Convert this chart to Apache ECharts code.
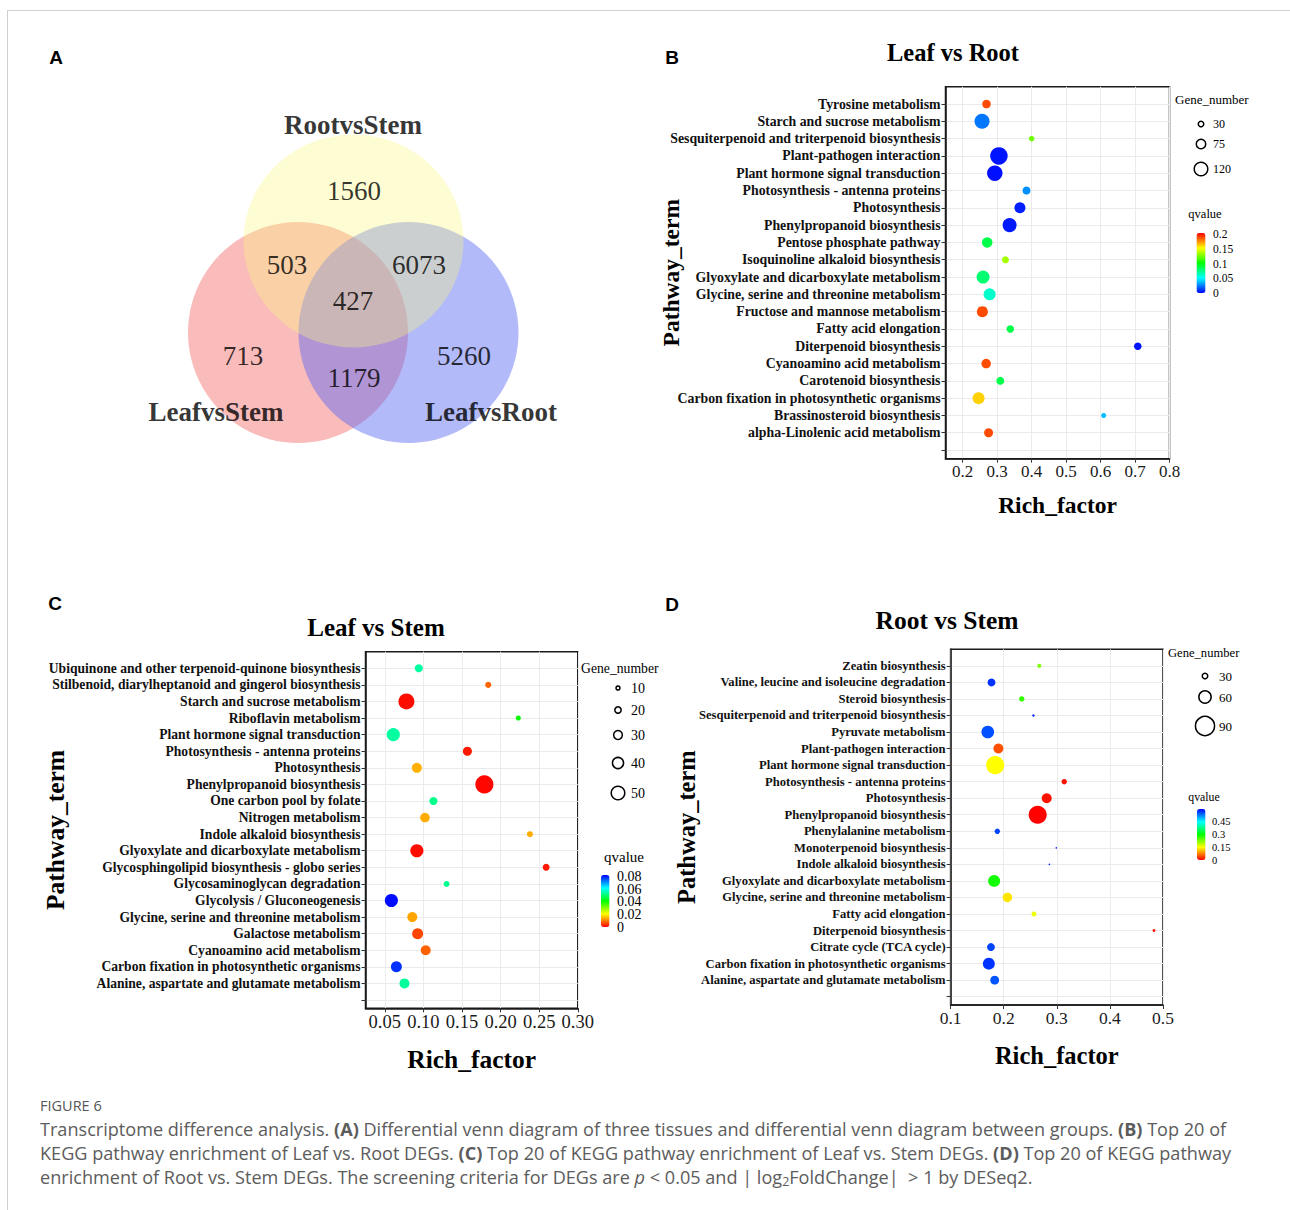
<!DOCTYPE html>
<html><head><meta charset="utf-8">
<script src="https://cdn.jsdelivr.net/npm/echarts@6/dist/echarts.min.js"></script>
<style>html,body{margin:0;padding:0;background:#fff}#c{width:1290px;height:1210px}</style>
</head><body><div id="c"></div>
<script>
// ---------------- DATA ----------------
// Panel A: Venn
const vennSets = ['LeafvsStem', 'LeafvsRoot', 'RootvsStem'];
const vennRegions = ['RootvsStem only', 'LeafvsStem & RootvsStem', 'RootvsStem & LeafvsRoot', 'All three', 'LeafvsStem only', 'LeafvsStem & LeafvsRoot', 'LeafvsRoot only'];
const vennCounts = [1560, 503, 6073, 427, 713, 1179, 5260];

// Panel B: Leaf vs Root
const catsB = ['Tyrosine metabolism', 'Starch and sucrose metabolism', 'Sesquiterpenoid and triterpenoid biosynthesis', 'Plant-pathogen interaction', 'Plant hormone signal transduction', 'Photosynthesis - antenna proteins', 'Photosynthesis', 'Phenylpropanoid biosynthesis', 'Pentose phosphate pathway', 'Isoquinoline alkaloid biosynthesis', 'Glyoxylate and dicarboxylate metabolism', 'Glycine, serine and threonine metabolism', 'Fructose and mannose metabolism', 'Fatty acid elongation', 'Diterpenoid biosynthesis', 'Cyanoamino acid metabolism', 'Carotenoid biosynthesis', 'Carbon fixation in photosynthetic organisms', 'Brassinosteroid biosynthesis', 'alpha-Linolenic acid metabolism'];
const richB = [0.269, 0.256, 0.400, 0.305, 0.293, 0.385, 0.366, 0.336, 0.271, 0.324, 0.259, 0.278, 0.257, 0.338, 0.708, 0.268, 0.309, 0.246, 0.609, 0.275];
const geneB = [47, 120, 13, 148, 125, 41, 75, 109, 69, 30, 97, 86, 75, 36, 36, 58, 41, 86, 8, 52];
const qB = [0.19, 0.024, 0.125, 0.004, 0.003, 0.029, 0.006, 0.005, 0.088, 0.135, 0.08, 0.062, 0.19, 0.088, 0.004, 0.19, 0.088, 0.163, 0.038, 0.19];
const xTicksB = [0.2, 0.3, 0.4, 0.5, 0.6, 0.7, 0.8];
const sizeBreaksB = [30, 75, 120];
const qTicksB = [0.2, 0.15, 0.1, 0.05, 0];

// Panel C: Leaf vs Stem
const catsC = ['Ubiquinone and other terpenoid-quinone biosynthesis', 'Stilbenoid, diarylheptanoid and gingerol biosynthesis', 'Starch and sucrose metabolism', 'Riboflavin metabolism', 'Plant hormone signal transduction', 'Photosynthesis - antenna proteins', 'Photosynthesis', 'Phenylpropanoid biosynthesis', 'One carbon pool by folate', 'Nitrogen metabolism', 'Indole alkaloid biosynthesis', 'Glyoxylate and dicarboxylate metabolism', 'Glycosphingolipid biosynthesis - globo series', 'Glycosaminoglycan degradation', 'Glycolysis / Gluconeogenesis', 'Glycine, serine and threonine metabolism', 'Galactose metabolism', 'Cyanoamino acid metabolism', 'Carbon fixation in photosynthetic organisms', 'Alanine, aspartate and glutamate metabolism'];
const richC = [0.094, 0.184, 0.078, 0.223, 0.061, 0.157, 0.0915, 0.179, 0.113, 0.102, 0.238, 0.0915, 0.259, 0.130, 0.0585, 0.0856, 0.0925, 0.103, 0.065, 0.0755];
const geneC = [21, 13, 54, 8, 42, 25, 29, 63, 21, 27, 12, 42, 16, 12, 42, 29, 33, 29, 33, 29];
const qC = [0.0545, 0.0081, 0.001, 0.041, 0.0545, 0.002, 0.0143, 0.0005, 0.053, 0.014, 0.014, 0.001, 0.002, 0.053, 0.082, 0.0134, 0.0057, 0.008, 0.079, 0.054];
const xTicksC = [0.05, 0.10, 0.15, 0.20, 0.25, 0.30];
const sizeBreaksC = [10, 20, 30, 40, 50];
const qTicksC = [0.08, 0.06, 0.04, 0.02, 0];

// Panel D: Root vs Stem
const catsD = ['Zeatin biosynthesis', 'Valine, leucine and isoleucine degradation', 'Steroid biosynthesis', 'Sesquiterpenoid and triterpenoid biosynthesis', 'Pyruvate metabolism', 'Plant-pathogen interaction', 'Plant hormone signal transduction', 'Photosynthesis - antenna proteins', 'Photosynthesis', 'Phenylpropanoid biosynthesis', 'Phenylalanine metabolism', 'Monoterpenoid biosynthesis', 'Indole alkaloid biosynthesis', 'Glyoxylate and dicarboxylate metabolism', 'Glycine, serine and threonine metabolism', 'Fatty acid elongation', 'Diterpenoid biosynthesis', 'Citrate cycle (TCA cycle)', 'Carbon fixation in photosynthetic organisms', 'Alanine, aspartate and glutamate metabolism'];
const richD = [0.267, 0.177, 0.234, 0.256, 0.170, 0.190, 0.184, 0.314, 0.281, 0.264, 0.188, 0.299, 0.286, 0.182, 0.207, 0.257, 0.483, 0.176, 0.172, 0.183];
const geneD = [17, 34, 23, 10, 55, 43, 79, 23, 43, 79, 23, 6, 6, 52, 41, 21, 12, 34, 52, 38];
const qD = [0.224, 0.57, 0.27, 0.58, 0.553, 0.047, 0.15, 0.01, 0.01, 0.001, 0.56, 0.58, 0.58, 0.29, 0.135, 0.16, 0.01, 0.56, 0.57, 0.55];
const xTicksD = [0.1, 0.2, 0.3, 0.4, 0.5];
const sizeBreaksD = [30, 60, 90];
const qTicksD = [0.45, 0.3, 0.15, 0];

// ---------------- STYLE / LAYOUT ----------------
const SERIF = '"Liberation Serif", "Times New Roman", serif';
const SANS = '"Liberation Sans", Arial, sans-serif';
const CAP = '"Open Sans", Lato, sans-serif';
const AX = '#1a1a1a';
const GRIDC = '#ebebeb';

const P = {
  B: { grid: { left: 945.5, top: 86.7, width: 224, height: 372 }, xMin: 0.15, xMax: 0.8, dec: 1,
       tickFs: 17, catFs: 13.8, nameFs: 23.5, xNameGap: 34, yNameGap: 263, labelMargin: 5,
       size: v => 4.33 + 0.089 * v, qMin: 0, qMax: 0.205,
       colors: ['#0000ff', '#00ffff', '#00ff00', '#ffff00', '#ff0000'],
       title: { x: 953, y: 52, fs: 24.5, text: 'Leaf vs Root' },
       leg: { titleX: 1175, titleY: 99, titleFs: 13, cx: 1201, ys: [124, 144, 169], lx: 1213, lfs: 12,
              qx: 1205, qy: 214, qfs: 12.5, barX: 1196.5, barY: 233, barW: 9, barH: 60, qlx: 1213, qlfs: 11.5 } },
  C: { grid: { left: 365.5, top: 651.7, width: 212.3, height: 356.6 }, xMin: 0.025, xMax: 0.30, dec: 2,
       tickFs: 18.5, catFs: 13.6, nameFs: 25.5, xNameGap: 38, yNameGap: 297, labelMargin: 5,
       size: v => 3.125 + 0.2375 * v, qMin: 0, qMax: 0.083,
       colors: ['#ff0000', '#ffff00', '#00ff00', '#00ffff', '#0000ff'],
       title: { x: 376, y: 627, fs: 25, text: 'Leaf vs Stem' },
       leg: { titleX: 581, titleY: 668, titleFs: 13.7, cx: 618, ys: [688, 710, 735, 763, 793], lx: 631, lfs: 14,
              qx: 624, qy: 857, qfs: 15, barX: 601, barY: 875, barW: 8.5, barH: 52, qlx: 617, qlfs: 14 } },
  D: { grid: { left: 950.6, top: 649.3, width: 212.4, height: 355.7 }, xMin: 0.1, xMax: 0.5, dec: 1,
       tickFs: 17.5, catFs: 12.6, nameFs: 24.5, xNameGap: 38, yNameGap: 252, labelMargin: 5,
       size: v => 0.2 + 0.2267 * v, qMin: 0, qMax: 0.6,
       colors: ['#ff0000', '#ffff00', '#00ff00', '#00ffff', '#0000ff'],
       title: { x: 947, y: 620, fs: 25.5, text: 'Root vs Stem' },
       leg: { titleX: 1168, titleY: 653, titleFs: 12.6, cx: 1205, ys: [676, 697, 726], lx: 1219, lfs: 13,
              qx: 1204, qy: 797, qfs: 11.8, barX: 1197, barY: 809, barW: 8.5, barH: 51, qlx: 1212, qlfs: 10.5 } }
};

const VENN = {
  circles: [ { x: 298, y: 332.5, w: 220, h: 221, color: 'rgba(240,67,67,0.45)' },
             { x: 408.5, y: 332.5, w: 220, h: 221, color: 'rgba(82,97,242,0.55)' },
             { x: 353.5, y: 241, w: 220, h: 213, color: 'rgba(250,246,130,0.44)' } ],
  setLabelPos: [[216, 412], [491, 412], [353, 125]],
  countPos: [[354, 191], [287, 265], [419, 265], [353, 301], [243, 356], [354, 378], [464, 356]],
  fs: 27
};

// ---------------- BUILD ----------------
function txt(x, y, text, size, o) {
  o = o || {};
  const al = o.align || 'left';
  return { type: 'text', x: x, y: y, silent: true, z: 100,
    style: Object.assign({ text: text, fontSize: size, fontFamily: o.family || SERIF, fontWeight: o.weight || 'normal',
      fill: o.fill || '#000', align: al, verticalAlign: 'middle', textAlign: al, textVerticalAlign: 'middle' }, o.style || {}) };
}

const grids = [{ left: 0, top: 0, width: 1290, height: 1210, outerBoundsMode: 'none', containLabel: false }];
const xAxes = [{ type: 'value', gridIndex: 0, min: 0, max: 1290, show: false }];
const yAxes = [{ type: 'value', gridIndex: 0, min: 0, max: 1210, inverse: true, show: false }];
const series = [];
const visualMaps = [];
const graphics = [];

// Venn circles (drawn: LeafvsStem, LeafvsRoot, RootvsStem)
series.push({ type: 'scatter', xAxisIndex: 0, yAxisIndex: 0, silent: true, z: 2,
  data: vennSets.map((s, i) => ({ name: s, value: [VENN.circles[i].x, VENN.circles[i].y],
    symbolSize: [VENN.circles[i].w, VENN.circles[i].h], itemStyle: { color: VENN.circles[i].color } })),
  symbol: 'circle' });
series.push({ type: 'scatter', xAxisIndex: 0, yAxisIndex: 0, silent: true, z: 3, symbolSize: 1,
  itemStyle: { color: 'rgba(0,0,0,0)' },
  data: vennCounts.map((c, i) => ({ name: vennRegions[i], value: [VENN.countPos[i][0], VENN.countPos[i][1], c] })),
  label: { show: true, position: 'inside', formatter: p => String(p.value[2]), fontFamily: SERIF, fontSize: VENN.fs, color: '#000' } });
series.push({ type: 'scatter', xAxisIndex: 0, yAxisIndex: 0, silent: true, z: 3, symbolSize: 1,
  itemStyle: { color: 'rgba(0,0,0,0)' },
  data: vennSets.map((s, i) => ({ name: s, value: [VENN.setLabelPos[i][0], VENN.setLabelPos[i][1]] })),
  label: { show: true, position: 'inside', formatter: p => p.name, fontFamily: SERIF, fontWeight: 'bold', fontSize: VENN.fs, color: '#000' } });

function addPanel(key, cats, rich, gene, q, xTicks, sizeBreaks, qTicks) {
  const c = P[key];
  const gi = grids.length;
  grids.push(Object.assign({ show: true, borderColor: AX, borderWidth: 1.5, backgroundColor: '#fff', outerBoundsMode: 'none', containLabel: false }, c.grid));
  xAxes.push({ type: 'value', gridIndex: gi, min: c.xMin, max: c.xMax, position: 'bottom',
    axisLine: { show: true, onZero: false, lineStyle: { color: AX, width: 1.5 } },
    axisTick: { show: true, customValues: xTicks, length: 4, lineStyle: { color: '#333', width: 1 } },
    axisLabel: { customValues: xTicks, formatter: v => Number(v).toFixed(c.dec), fontFamily: SERIF, fontSize: c.tickFs, color: '#1a1a1a', margin: 4 },
    splitLine: { show: true, lineStyle: { color: GRIDC, width: 1 } },
    name: 'Rich_factor', nameLocation: 'middle', nameGap: c.xNameGap, nameMoveOverlap: false,
    nameTextStyle: { fontFamily: SERIF, fontWeight: 'bold', fontSize: c.nameFs, color: '#000' } });
  const labelVals = cats.map((_, i) => i);
  const tickVals = labelVals.concat([cats.length]);
  yAxes.push({ type: 'value', gridIndex: gi, min: -1, max: cats.length + 0.5, inverse: true, position: 'left',
    axisLine: { show: true, onZero: false, lineStyle: { color: AX, width: 1.5 } },
    axisTick: { show: true, customValues: tickVals, length: 4, lineStyle: { color: '#333', width: 1 } },
    axisLabel: { customValues: labelVals, formatter: v => cats[Math.round(v)] || '', fontFamily: SERIF, fontWeight: 'bold', fontSize: c.catFs, color: '#111', margin: c.labelMargin },
    splitLine: { show: true, lineStyle: { color: GRIDC, width: 1 } },
    name: 'Pathway_term', nameLocation: 'middle', nameGap: c.yNameGap, nameRotate: 90, nameMoveOverlap: false,
    nameTextStyle: { fontFamily: SERIF, fontWeight: 'bold', fontSize: c.nameFs, color: '#000' } });
  const si = series.length;
  series.push({ type: 'scatter', xAxisIndex: gi, yAxisIndex: gi, silent: true, z: 5,
    data: cats.map((n, i) => ({ name: n, value: [rich[i], i, gene[i], q[i]] })),
    symbolSize: v => c.size(v[2]), itemStyle: { opacity: 1 } });
  const L = c.leg;
  visualMaps.push({ type: 'continuous', seriesIndex: si, dimension: 3, min: c.qMin, max: c.qMax,
    inRange: { color: c.colors }, orient: 'vertical', left: L.barX, top: L.barY,
    itemWidth: L.barW, itemHeight: L.barH, calculable: false, padding: 0, hoverLink: false, realtime: false, text: null });
  graphics.push(txt(c.title.x, c.title.y, c.title.text, c.title.fs, { align: 'center', weight: 'bold' }));
  graphics.push(txt(L.titleX, L.titleY, 'Gene_number', L.titleFs));
  sizeBreaks.forEach((b, i) => {
    const d = c.size(b);
    graphics.push({ type: 'circle', silent: true, z: 100, shape: { cx: L.cx, cy: L.ys[i], r: Math.max(d / 2 - 0.75, 1) },
      style: { fill: 'none', stroke: '#000', lineWidth: 1.5 } });
    graphics.push(txt(L.lx, L.ys[i], String(b), L.lfs));
  });
  graphics.push(txt(L.qx, L.qy, 'qvalue', L.qfs, { align: 'center' }));
  qTicks.forEach(t => {
    const y = L.barY + (c.qMax - t) / (c.qMax - c.qMin) * L.barH;
    graphics.push(txt(L.qlx, y, String(t), L.qlfs));
  });
}
addPanel('B', catsB, richB, geneB, qB, xTicksB, sizeBreaksB, qTicksB);
addPanel('C', catsC, richC, geneC, qC, xTicksC, sizeBreaksC, qTicksC);
addPanel('D', catsD, richD, geneD, qD, xTicksD, sizeBreaksD, qTicksD);

// frame
graphics.push({ type: 'line', silent: true, shape: { x1: 7, y1: 10.5, x2: 1290, y2: 10.5 }, style: { stroke: '#cfcfcf', lineWidth: 1 } });
graphics.push({ type: 'line', silent: true, shape: { x1: 7.5, y1: 10, x2: 7.5, y2: 1210 }, style: { stroke: '#cfcfcf', lineWidth: 1 } });
// panel letters
[['A', 56, 57], ['B', 672, 57], ['C', 55, 603], ['D', 672, 604]].forEach(l =>
  graphics.push(txt(l[1], l[2], l[0], 19, { family: SANS, weight: 'bold', align: 'center' })));
// caption
const capFs = 18.1, capCol = '#5c5c5c';
const capRich = {
  b: { fontFamily: CAP, fontSize: capFs, fontWeight: 'bold', fill: capCol, color: capCol },
  i: { fontFamily: CAP, fontSize: capFs, fontStyle: 'italic', fill: capCol, color: capCol },
  s: { fontFamily: CAP, fontSize: 12.5, fill: capCol, color: capCol, padding: [8, 0, 0, 0] }
};
graphics.push(txt(40, 1105, 'FIGURE 6', 14.5, { family: CAP, fill: '#555' }));
const capLines = [
  'Transcriptome difference analysis. {b|(A)} Differential venn diagram of three tissues and differential venn diagram between groups. {b|(B)} Top 20 of',
  'KEGG pathway enrichment of Leaf vs. Root DEGs. {b|(C)} Top 20 of KEGG pathway enrichment of Leaf vs. Stem DEGs. {b|(D)} Top 20 of KEGG pathway',
  'enrichment of Root vs. Stem DEGs. The screening criteria for DEGs are {i|p} < 0.05 and | log{s|2}FoldChange|  > 1 by DESeq2.'
];
capLines.forEach((t, i) => graphics.push(txt(40, 1129 + i * 24, t, capFs, { family: CAP, fill: capCol, style: { rich: capRich } })));

const chart = echarts.init(document.getElementById('c'), null, { renderer: 'svg', width: 1290, height: 1210 });
chart.setOption({
  backgroundColor: '#fff', animation: false,
  grid: grids, xAxis: xAxes, yAxis: yAxes, series: series, visualMap: visualMaps, graphic: graphics,
  tooltip: { show: false }
});
</script></body></html>
